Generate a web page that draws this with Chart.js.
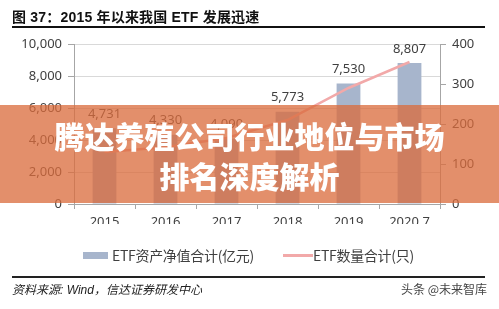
<!DOCTYPE html>
<html><head><meta charset="utf-8">
<script src="https://cdn.jsdelivr.net/npm/chart.js@4"></script>
<style>
html,body{margin:0;padding:0;background:#fff;}
#wrap{position:relative;width:499px;height:309px;overflow:hidden;background:#fff;font-family:"Noto Sans","Noto Sans CJK SC",sans-serif;}
#c{position:absolute;left:0;top:0;}
.abs{position:absolute;white-space:nowrap;}
#title{left:12px;top:6px;font:bold 14px "Liberation Sans","Noto Sans CJK SC",sans-serif;color:#111;letter-spacing:0.2px;}
#tline{left:12px;top:26px;width:473px;height:2px;background:#111;}
#bline{left:12px;top:276px;width:473px;height:1.5px;background:#222;}
#src{left:12px;top:280px;font:italic 12px "Liberation Sans","Noto Sans CJK SC",sans-serif;color:#222;}
#wm{left:401px;top:280px;font:12px "Noto Sans CJK SC",sans-serif;color:#444;}
#banner{left:0;top:105px;width:499px;height:98px;background:rgba(218,108,60,0.76);}
.bt{left:0;width:499px;text-align:center;color:#fff;font:900 30px "Noto Sans CJK SC",sans-serif;line-height:40px;}
.lg{top:245px;font:14px "Noto Sans CJK SC",sans-serif;color:#404040;line-height:20px;letter-spacing:-0.3px;}
</style></head>
<body>
<div id="wrap">
<canvas id="c" width="499" height="309"></canvas>
<div id="title" class="abs">图 37：2015 年以来我国 ETF 发展迅速</div>
<div id="tline" class="abs"></div>
<div id="lg1box" class="abs" style="left:83px;top:252px;width:25px;height:7px;background:#A7B5CC;"></div>
<div id="lg1" class="abs lg" style="left:112px;"></div>
<div id="lg2line" class="abs" style="left:283px;top:254px;width:30px;height:3px;background:#F2A9A9;"></div>
<div id="lg2" class="abs lg" style="left:313px;"></div>
<div id="banner" class="abs"></div>
<div class="abs bt" style="top:115px;">腾达养殖公司行业地位与市场</div>
<div class="abs bt" style="top:155px;">排名深度解析</div>
<div id="bline" class="abs"></div>
<div id="src" class="abs">资料来源: Wind，信达证券研发中心</div>
<div id="wm" class="abs">头条 @未来智库</div>
</div>
<script>
const categories = ["2015","2016","2017","2018","2019","2020.7"];
const assetValues = [4731, 4330, 4090, 5773, 7530, 8807];
const countValues = [130, 142, 165, 210, 290, 355];
const leftTicks = [0, 2000, 4000, 6000, 8000, 10000];
const rightTicks = [0, 100, 200, 300, 400];
const seriesNames = ["ETF资产净值合计(亿元)", "ETF数量合计(只)"];

document.getElementById('lg1').textContent = seriesNames[0];
document.getElementById('lg2').textContent = seriesNames[1];

const fmt = v => v.toLocaleString('en-US');
const tickFont = {family:"'Noto Sans', sans-serif", size:13};

const labelPlugin = {
  id:'barLabels',
  afterDatasetsDraw(chart){
    const ctx = chart.ctx;
    const meta = chart.getDatasetMeta(0);
    ctx.save();
    ctx.font = "13px 'Noto Sans', sans-serif";
    ctx.fillStyle = '#404040';
    ctx.textAlign = 'center';
    ctx.textBaseline = 'middle';
    meta.data.forEach((bar,i)=>{
      ctx.fillText(fmt(assetValues[i]), bar.x, bar.y - 14);
    });
    ctx.restore();
  }
};

new Chart(document.getElementById('c'), {
  data:{
    labels:categories,
    datasets:[
      {type:'bar', label:seriesNames[0], data:assetValues, yAxisID:'y',
       backgroundColor:'#A7B5CC', categoryPercentage:1, barPercentage:0.39, order:2},
      {type:'line', label:seriesNames[1], data:countValues, yAxisID:'y1',
       borderColor:'#F2A9A9', borderWidth:2.5, pointRadius:0, tension:0, fill:false, order:1}
    ]
  },
  options:{
    responsive:false, animation:false,
    layout:{padding:{left:0,right:0,top:44,bottom:85}},
    plugins:{legend:{display:false}, tooltip:{enabled:false}},
    scales:{
      x:{
        offset:true,
        grid:{offset:true, drawOnChartArea:false, drawTicks:true, tickLength:5, tickColor:'#A6A6A6'},
        border:{color:'#A6A6A6'},
        ticks:{font:tickFont, color:'#404040', padding:5, maxRotation:0},
        afterFit(s){s.height=20;}
      },
      y:{
        position:'left', min:0, max:10000,
        afterBuildTicks(s){s.ticks = leftTicks.map(v=>({value:v}));},
        grid:{color:'#D9D9D9', tickLength:6, tickColor:'#A6A6A6'},
        border:{color:'#A6A6A6'},
        ticks:{font:tickFont, color:'#404040', padding:6, callback:v=>fmt(v)},
        afterFit(s){s.width=74;}
      },
      y1:{
        position:'right', min:0, max:400,
        afterBuildTicks(s){s.ticks = rightTicks.map(v=>({value:v}));},
        grid:{drawOnChartArea:false, tickLength:6, tickColor:'#A6A6A6'},
        border:{color:'#A6A6A6'},
        ticks:{font:tickFont, color:'#404040', padding:6},
        afterFit(s){s.width=59;}
      }
    }
  },
  plugins:[labelPlugin]
});
</script>
</body></html>
